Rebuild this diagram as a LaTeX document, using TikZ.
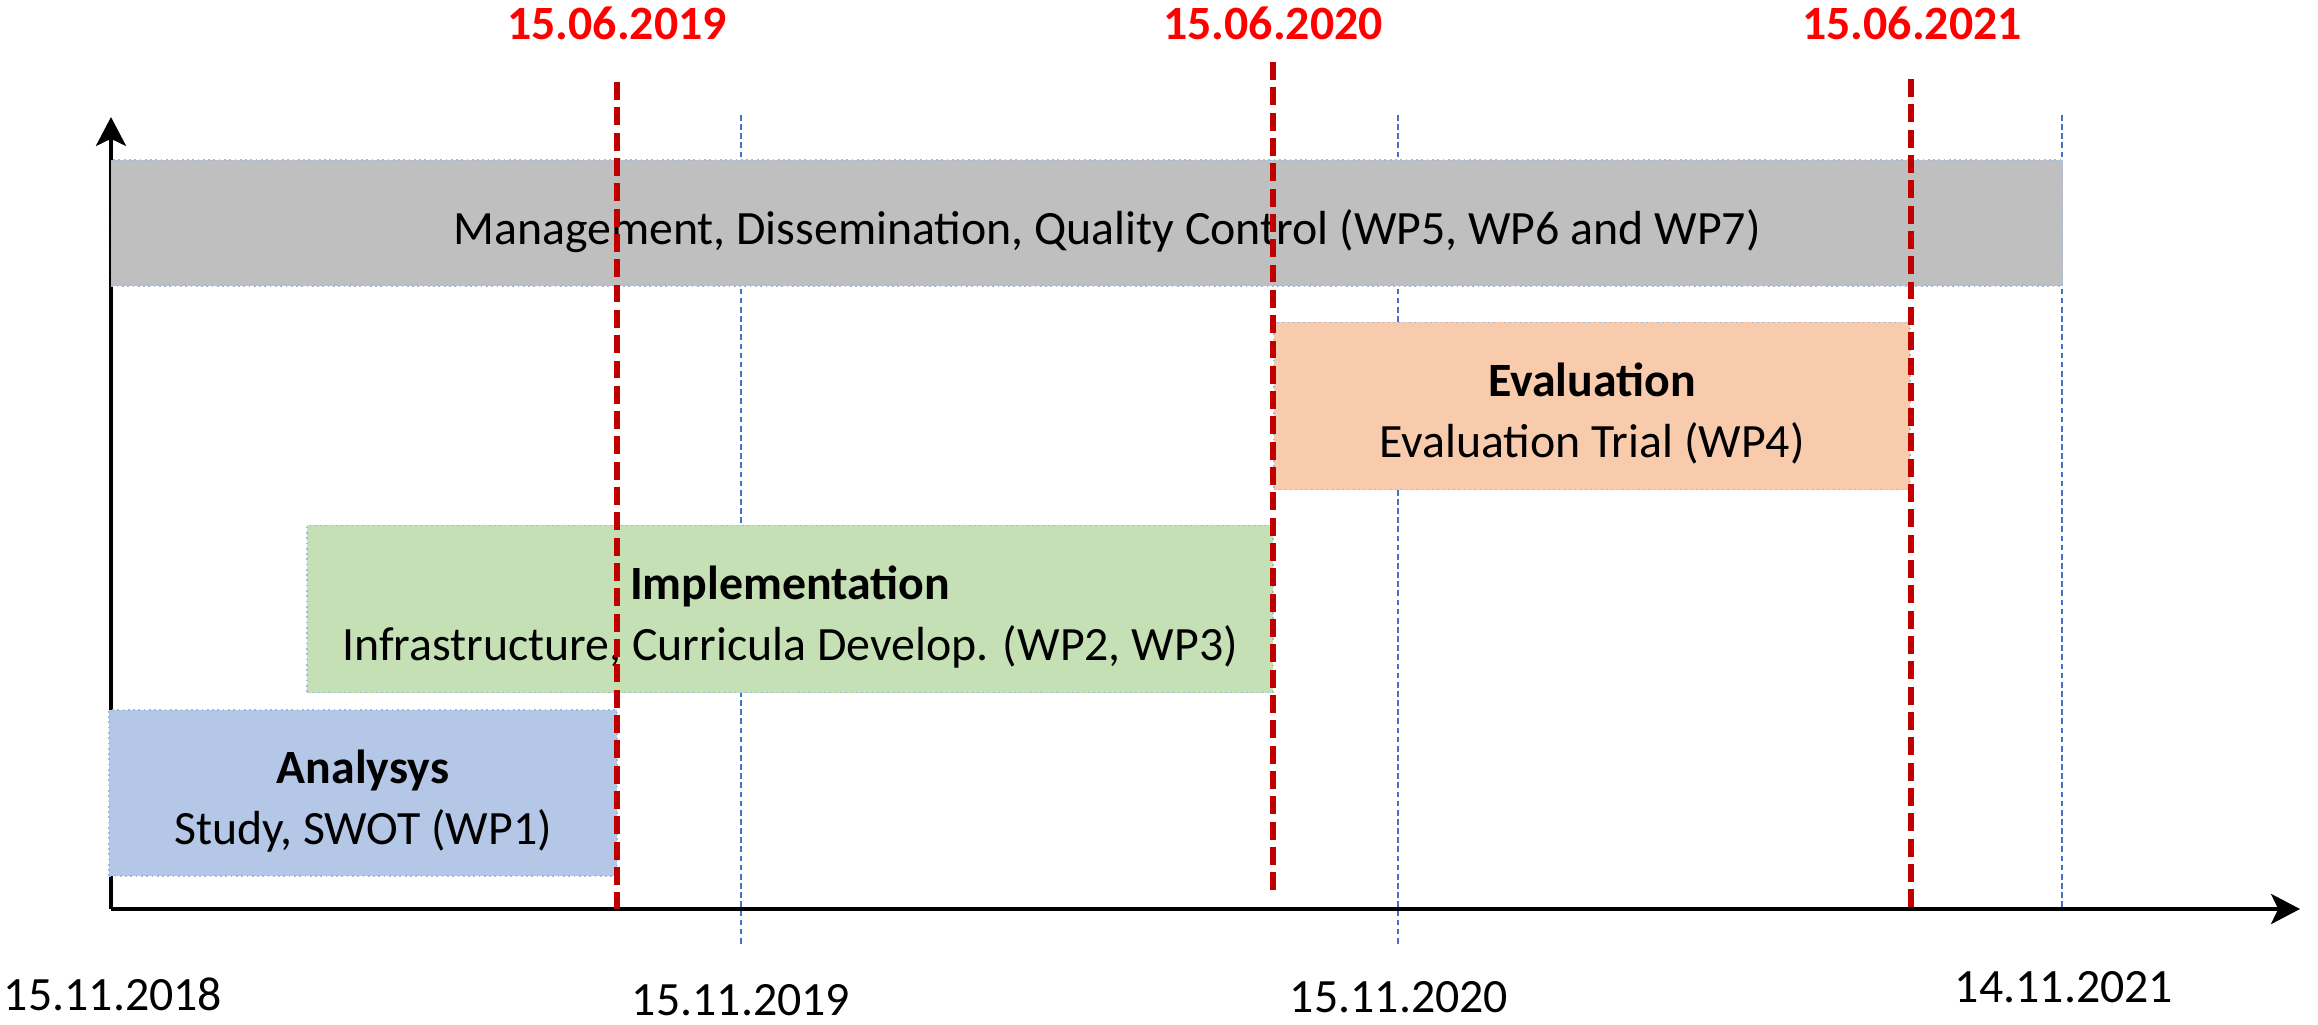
\documentclass[tikz,border=0pt]{standalone}
\usepackage{fontspec}
\setmainfont{Carlito}
\usepackage{tikz}
\usetikzlibrary{positioning}
\usetikzlibrary{arrows.meta}
\definecolor{mgmtgray}{HTML}{BFBFBF}
\definecolor{evalpeach}{HTML}{F8CBAD}
\definecolor{implgreen}{HTML}{C5E0B4}
\definecolor{analblue}{HTML}{B4C7E7}
\definecolor{boxline}{HTML}{9DB9E6}
\definecolor{yearblue}{HTML}{4472C4}
\definecolor{msred}{HTML}{C00000}
\tikzstyle{phase}=[draw=boxline, densely dotted, line width=0.5pt, inner sep=0pt, align=center, text depth=0pt, text height=29.1pt, font=\fontsize{13.6}{17.3}\selectfont]
\tikzstyle{milestone}=[draw=msred, line width=1.9pt, dash pattern=on 5.1pt off 2.1pt]
\tikzstyle{yearline}=[draw=yearblue, line width=0.35pt, dash pattern=on 1.6pt off 1pt]
\tikzstyle{axis}=[draw=black, line width=1.3pt, -{Stealth[length=8.2pt, width=8.5pt, inset=2pt]}]
\tikzstyle{date}=[inner sep=0pt, anchor=base, font=\fontsize{13.6}{16}\selectfont]
\tikzstyle{msdate}=[date, text=red, font=\fontsize{13.6}{16}\selectfont\bfseries]

\begin{document}
\begin{tikzpicture}[x=0.01cm, y=-0.01cm]
            \useasboundingbox (0,0) rectangle (2318,1024);

            \coordinate (o) at (111,909);
            \coordinate (ytip) at (111,117);
            \coordinate (xtip) at (2300,909);

            % year lines
            \draw[yearline] (741,115) -- (741,945);
            \draw[yearline] (1398,115) -- (1398,945);
            \draw[yearline] (2062,115) -- (2062,909);

            \draw[axis] (o) -- (ytip);
            \draw[axis] (o) -- (xtip);

            % work packages
            \node[phase, text height=12.4pt, fill=mgmtgray, minimum width=19.5cm, minimum height=1.26cm] (mgmt) at (1087,223) {\hspace*{0.4cm}Management, Dissemination, Quality Control (WP5, WP6 and WP7)};
            \node[phase, fill=evalpeach, minimum width=6.36cm, minimum height=1.67cm] (wp4) at (1592,406) {\textbf{Evaluation}\\Evaluation Trial (WP4)};
            \node[phase, fill=implgreen, minimum width=9.65cm, minimum height=1.67cm] (wp23) at (790,609) {\textbf{Implementation}\\Infrastructure, Curricula Develop. (WP2, WP3)};
            \node[phase, fill=analblue, minimum width=5.07cm, minimum height=1.66cm] (wp1) at (363,793) {\textbf{Analysys}\\Study, SWOT (WP1)};

            % milestones
            \draw[milestone] (617,82) -- (617,909);
            \draw[milestone] (1273,62) -- (1273,891);
            \draw[milestone] (1911,79) -- (1911,909);

            \node[msdate] (m19) at (617,40) {15.06.2019};
            \node[msdate] (m20) at (1273,40) {15.06.2020};
            \node[msdate] (m21) at (1912,39) {15.06.2021};

            \node[date] (d18) at (113,1010) {15.11.2018};
            \node[date] (d19) at (741,1015) {15.11.2019};
            \node[date] (d20) at (1399,1012) {15.11.2020};
            \node[date] (d21) at (2064,1002) {14.11.2021};
        \end{tikzpicture}
\end{document}
